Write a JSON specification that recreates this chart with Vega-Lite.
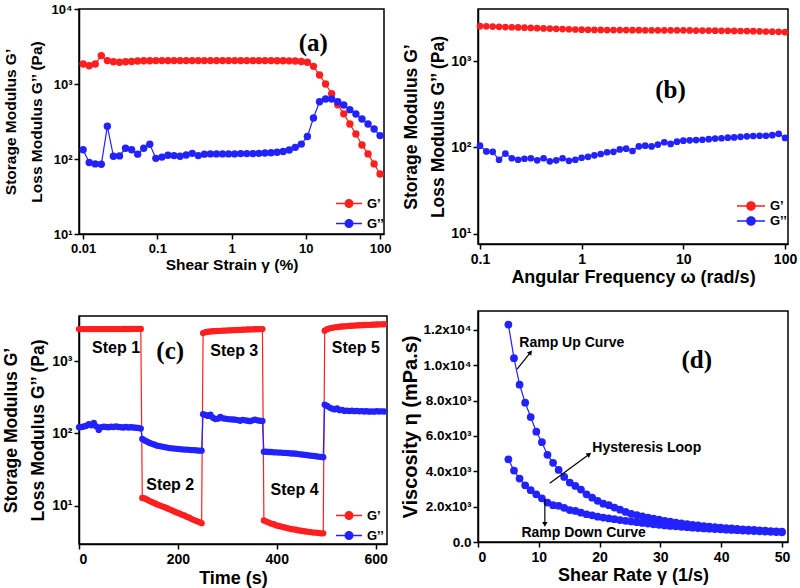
{
"$schema": "https://vega.github.io/schema/vega-lite/v6.json",
"background": "white",
"padding": {"left": 2, "top": 2, "right": 0, "bottom": 3},
"datasets": {
"a": [{"x":0.01,"gp":1850,"gpp":133},{"x":0.01207,"gp":1750,"gpp":90},{"x":0.01456,"gp":1850,"gpp":86},{"x":0.01758,"gp":2390,"gpp":85},{"x":0.02121,"gp":2050,"gpp":273},{"x":0.0256,"gp":1985,"gpp":109},{"x":0.0309,"gp":1950,"gpp":110},{"x":0.0373,"gp":1985,"gpp":139},{"x":0.045,"gp":2000,"gpp":133},{"x":0.0543,"gp":2030,"gpp":116},{"x":0.0655,"gp":2040,"gpp":139},{"x":0.0791,"gp":2040,"gpp":157},{"x":0.0954,"gp":2050,"gpp":102},{"x":0.1152,"gp":2050,"gpp":106},{"x":0.139,"gp":2050,"gpp":112},{"x":0.1677,"gp":2050,"gpp":111},{"x":0.2024,"gp":2050,"gpp":109},{"x":0.2443,"gp":2050,"gpp":113},{"x":0.2949,"gp":2050,"gpp":119},{"x":0.3559,"gp":2050,"gpp":111},{"x":0.4295,"gp":2050,"gpp":116},{"x":0.5184,"gp":2050,"gpp":117},{"x":0.6257,"gp":2050,"gpp":117},{"x":0.7551,"gp":2050,"gpp":117},{"x":0.9113,"gp":2050,"gpp":117},{"x":1.1,"gp":2050,"gpp":117},{"x":1.327,"gp":2050,"gpp":118},{"x":1.602,"gp":2050,"gpp":118},{"x":1.933,"gp":2050,"gpp":118},{"x":2.333,"gp":2050,"gpp":119},{"x":2.816,"gp":2050,"gpp":120},{"x":3.398,"gp":2050,"gpp":121},{"x":4.101,"gp":2045,"gpp":123},{"x":4.95,"gp":2040,"gpp":126},{"x":5.974,"gp":2035,"gpp":132},{"x":7.21,"gp":2025,"gpp":143},{"x":8.7,"gp":2000,"gpp":158},{"x":10.5,"gp":1950,"gpp":200},{"x":12.67,"gp":1720,"gpp":352},{"x":15.3,"gp":1320,"gpp":581},{"x":18.46,"gp":1000,"gpp":631},{"x":22.28,"gp":740,"gpp":631},{"x":26.9,"gp":530,"gpp":581},{"x":32.46,"gp":400,"gpp":525},{"x":39.17,"gp":293,"gpp":455},{"x":47.28,"gp":215,"gpp":398},{"x":57.06,"gp":154,"gpp":341},{"x":68.87,"gp":117,"gpp":293},{"x":83.12,"gp":86,"gpp":251},{"x":100,"gp":63,"gpp":205}],
"b": [{"x":0.1,"gp":2575,"gpp":105},{"x":0.1155,"gp":2560,"gpp":90},{"x":0.1334,"gp":2545,"gpp":89},{"x":0.154,"gp":2530,"gpp":72},{"x":0.1778,"gp":2515,"gpp":85},{"x":0.2054,"gp":2500,"gpp":75},{"x":0.2371,"gp":2485,"gpp":72},{"x":0.2738,"gp":2470,"gpp":74},{"x":0.3162,"gp":2455,"gpp":75},{"x":0.3652,"gp":2440,"gpp":71},{"x":0.4217,"gp":2425,"gpp":75},{"x":0.487,"gp":2410,"gpp":69},{"x":0.5623,"gp":2395,"gpp":71},{"x":0.6494,"gp":2380,"gpp":75},{"x":0.7499,"gp":2370,"gpp":70},{"x":0.866,"gp":2355,"gpp":72},{"x":1,"gp":2340,"gpp":76},{"x":1.155,"gp":2335,"gpp":78},{"x":1.334,"gp":2330,"gpp":81},{"x":1.54,"gp":2325,"gpp":84},{"x":1.778,"gp":2320,"gpp":88},{"x":2.054,"gp":2320,"gpp":89},{"x":2.371,"gp":2315,"gpp":95},{"x":2.738,"gp":2315,"gpp":97},{"x":3.162,"gp":2310,"gpp":91},{"x":3.652,"gp":2310,"gpp":103},{"x":4.217,"gp":2305,"gpp":105},{"x":4.87,"gp":2305,"gpp":103},{"x":5.623,"gp":2300,"gpp":108},{"x":6.494,"gp":2300,"gpp":115},{"x":7.499,"gp":2300,"gpp":110},{"x":8.66,"gp":2300,"gpp":117},{"x":10,"gp":2300,"gpp":120},{"x":11.55,"gp":2295,"gpp":121},{"x":13.34,"gp":2290,"gpp":122},{"x":15.4,"gp":2290,"gpp":123},{"x":17.78,"gp":2285,"gpp":125},{"x":20.54,"gp":2280,"gpp":127},{"x":23.71,"gp":2275,"gpp":128},{"x":27.38,"gp":2270,"gpp":130},{"x":31.62,"gp":2265,"gpp":131},{"x":36.52,"gp":2260,"gpp":133},{"x":42.17,"gp":2255,"gpp":135},{"x":48.7,"gp":2250,"gpp":136},{"x":56.23,"gp":2240,"gpp":137},{"x":64.94,"gp":2230,"gpp":137},{"x":74.99,"gp":2220,"gpp":139},{"x":86.6,"gp":2210,"gpp":144},{"x":100,"gp":2190,"gpp":129}],
"c": [{"t":0,"gp":2760,"gpp":122},{"t":5,"gp":2760,"gpp":123},{"t":10,"gp":2760,"gpp":125},{"t":15,"gp":2760,"gpp":128},{"t":20,"gp":2760,"gpp":135},{"t":25,"gp":2760,"gpp":130},{"t":30,"gp":2760,"gpp":140},{"t":35,"gp":2760,"gpp":125},{"t":40,"gp":2760,"gpp":112},{"t":45,"gp":2760,"gpp":122},{"t":50,"gp":2760,"gpp":124},{"t":55,"gp":2760,"gpp":123},{"t":60,"gp":2760,"gpp":122},{"t":65,"gp":2760,"gpp":124},{"t":70,"gp":2760,"gpp":123},{"t":75,"gp":2760,"gpp":125},{"t":80,"gp":2760,"gpp":123},{"t":85,"gp":2760,"gpp":122},{"t":90,"gp":2765,"gpp":121},{"t":95,"gp":2765,"gpp":123},{"t":100,"gp":2765,"gpp":121},{"t":105,"gp":2765,"gpp":122},{"t":110,"gp":2770,"gpp":121},{"t":115,"gp":2770,"gpp":120},{"t":120,"gp":2770,"gpp":119},{"t":125,"gp":2770,"gpp":117},
{"t":128,"gp":12.9,"gpp":84},{"t":133,"gp":12.7,"gpp":80},{"t":138,"gp":12.2,"gpp":77},{"t":143,"gp":11.7,"gpp":74},{"t":148,"gp":11.3,"gpp":72},{"t":153,"gp":10.9,"gpp":70},{"t":158,"gp":10.5,"gpp":68},{"t":163,"gp":10.2,"gpp":67},{"t":168,"gp":9.9,"gpp":66},{"t":173,"gp":9.6,"gpp":65},{"t":178,"gp":9.3,"gpp":64},{"t":183,"gp":9.0,"gpp":63},{"t":188,"gp":8.7,"gpp":62.5},{"t":193,"gp":8.4,"gpp":62},{"t":198,"gp":8.1,"gpp":61.5},{"t":203,"gp":7.9,"gpp":61},{"t":208,"gp":7.6,"gpp":60.5},{"t":213,"gp":7.4,"gpp":60},{"t":218,"gp":7.1,"gpp":60},{"t":223,"gp":6.9,"gpp":59.5},{"t":228,"gp":6.6,"gpp":59},{"t":233,"gp":6.4,"gpp":59},{"t":238,"gp":6.2,"gpp":58.5},{"t":243,"gp":6.0,"gpp":58},{"t":248,"gp":5.8,"gpp":58},
{"t":251,"gp":2430,"gpp":185},{"t":256,"gp":2500,"gpp":180},{"t":261,"gp":2530,"gpp":175},{"t":266,"gp":2550,"gpp":182},{"t":271,"gp":2570,"gpp":165},{"t":276,"gp":2585,"gpp":158},{"t":281,"gp":2600,"gpp":160},{"t":286,"gp":2610,"gpp":170},{"t":291,"gp":2620,"gpp":162},{"t":296,"gp":2630,"gpp":160},{"t":301,"gp":2640,"gpp":158},{"t":306,"gp":2650,"gpp":157},{"t":311,"gp":2660,"gpp":156},{"t":316,"gp":2670,"gpp":155},{"t":321,"gp":2680,"gpp":153},{"t":326,"gp":2690,"gpp":150},{"t":331,"gp":2700,"gpp":154},{"t":336,"gp":2710,"gpp":152},{"t":341,"gp":2720,"gpp":150},{"t":346,"gp":2725,"gpp":148},{"t":351,"gp":2735,"gpp":152},{"t":356,"gp":2740,"gpp":155},{"t":361,"gp":2750,"gpp":152},{"t":366,"gp":2755,"gpp":150},{"t":371,"gp":2760,"gpp":149},
{"t":374,"gp":6.3,"gpp":56},{"t":379,"gp":6.1,"gpp":56},{"t":384,"gp":5.9,"gpp":55.5},{"t":389,"gp":5.7,"gpp":55.5},{"t":394,"gp":5.6,"gpp":55},{"t":399,"gp":5.4,"gpp":55},{"t":404,"gp":5.3,"gpp":54.5},{"t":409,"gp":5.2,"gpp":54.5},{"t":414,"gp":5.1,"gpp":54},{"t":419,"gp":5.0,"gpp":54},{"t":424,"gp":4.9,"gpp":53.5},{"t":429,"gp":4.8,"gpp":53},{"t":434,"gp":4.75,"gpp":53},{"t":439,"gp":4.7,"gpp":52.5},{"t":444,"gp":4.6,"gpp":52},{"t":449,"gp":4.55,"gpp":51.5},{"t":454,"gp":4.5,"gpp":51},{"t":459,"gp":4.45,"gpp":50.5},{"t":464,"gp":4.4,"gpp":50},{"t":469,"gp":4.35,"gpp":49.5},{"t":474,"gp":4.3,"gpp":49},{"t":479,"gp":4.3,"gpp":48.5},{"t":484,"gp":4.25,"gpp":48},{"t":489,"gp":4.2,"gpp":47.5},{"t":494,"gp":4.2,"gpp":47},
{"t":497,"gp":2620,"gpp":250},{"t":502,"gp":2750,"gpp":240},{"t":507,"gp":2820,"gpp":228},{"t":512,"gp":2870,"gpp":220},{"t":517,"gp":2910,"gpp":215},{"t":522,"gp":2940,"gpp":222},{"t":527,"gp":2970,"gpp":210},{"t":532,"gp":2990,"gpp":212},{"t":537,"gp":3010,"gpp":205},{"t":542,"gp":3030,"gpp":207},{"t":547,"gp":3050,"gpp":204},{"t":552,"gp":3065,"gpp":206},{"t":557,"gp":3080,"gpp":203},{"t":562,"gp":3095,"gpp":205},{"t":567,"gp":3110,"gpp":202},{"t":572,"gp":3120,"gpp":204},{"t":577,"gp":3135,"gpp":201},{"t":582,"gp":3145,"gpp":203},{"t":587,"gp":3155,"gpp":200},{"t":592,"gp":3165,"gpp":202},{"t":597,"gp":3175,"gpp":200},{"t":602,"gp":3185,"gpp":203},{"t":607,"gp":3195,"gpp":201},{"t":612,"gp":3205,"gpp":202},{"t":617,"gp":3215,"gpp":201}],
"d": [{"x":5,"up":12300,"down":4680},{"x":5.92,"up":10400,"down":4040},{"x":6.84,"up":8900,"down":3590},{"x":7.76,"up":7880,"down":3210},{"x":8.67,"up":7070,"down":2930},{"x":9.59,"up":6240,"down":2700},{"x":10.51,"up":5650,"down":2470},{"x":11.43,"up":4930,"down":2230},{"x":12.35,"up":4480,"down":2080},{"x":13.27,"up":4080,"down":2040},{"x":14.18,"up":3680,"down":1930},{"x":15.1,"up":3360,"down":1810},{"x":16.02,"up":3170,"down":1760},{"x":16.94,"up":2970,"down":1660},{"x":17.86,"up":2700,"down":1570},{"x":18.78,"up":2510,"down":1510},{"x":19.69,"up":2330,"down":1430},{"x":20.61,"up":2170,"down":1380},{"x":21.53,"up":2080,"down":1330},{"x":22.45,"up":1950,"down":1290},{"x":23.37,"up":1830,"down":1240},{"x":24.29,"up":1700,"down":1200},{"x":25.2,"up":1590,"down":1160},{"x":26.12,"up":1520,"down":1120},{"x":27.04,"up":1450,"down":1080},{"x":27.96,"up":1380,"down":1040},{"x":28.88,"up":1320,"down":1000},{"x":29.8,"up":1260,"down":970},{"x":30.71,"up":1200,"down":940},{"x":31.63,"up":1150,"down":910},{"x":32.55,"up":1100,"down":885},{"x":33.47,"up":1050,"down":860},{"x":34.39,"up":1010,"down":835},{"x":35.31,"up":970,"down":810},{"x":36.22,"up":935,"down":790},{"x":37.14,"up":900,"down":770},{"x":38.06,"up":870,"down":750},{"x":38.98,"up":840,"down":730},{"x":39.9,"up":815,"down":715},{"x":40.82,"up":790,"down":700},{"x":41.73,"up":765,"down":680},{"x":42.65,"up":740,"down":665},{"x":43.57,"up":720,"down":650},{"x":44.49,"up":700,"down":635},{"x":45.41,"up":680,"down":620},{"x":46.33,"up":660,"down":605},{"x":47.24,"up":640,"down":590},{"x":48.16,"up":620,"down":575},{"x":49.08,"up":600,"down":560},{"x":50,"up":585,"down":545}]
},
"spacing": 7,
"bounds": "full",
"resolve": {"scale": {"color": "independent"}, "legend": {"color": "independent"}},
"hconcat": [
{"vconcat": [
{"width": 305, "height": 225,
 "layer": [
  {"data": {"name": "a"}, "transform": [{"fold": ["gp", "gpp"], "as": ["s", "v"]}],
   "mark": {"type": "line", "strokeWidth": 1.2},
   "encoding": {
    "x": {"field": "x", "type": "quantitative", "scale": {"type": "log", "domain": [0.0088, 113], "nice": false},
          "axis": {"values": [0.01, 0.1, 1, 10, 100], "format": "~g", "title": "Shear Strain γ (%)", "titleFontSize": 15.5, "labelFontSize": 13, "labelPadding": 3, "titlePadding": 2}},
    "y": {"field": "v", "type": "quantitative", "scale": {"type": "log", "domain": [10, 10000], "nice": false},
          "axis": {"values": [10, 100, 1000, 10000], "labelExpr": "datum.value == 10 ? '10¹' : datum.value == 100 ? '10²' : datum.value == 1000 ? '10³' : '10⁴'", "title": ["Storage Modulus G’", "Loss Modulus G’’ (Pa)"], "titleFontSize": 15.5, "titleLineHeight": 26, "labelFontSize": 13, "labelPadding": 2, "titlePadding": 7}},
    "color": {"field": "s", "type": "nominal", "scale": {"domain": ["gp", "gpp"], "range": ["#ff1f1f", "#2222ff"]},
      "legend": {"orient": "none", "legendX": 256, "legendY": 187, "title": null, "symbolType": "M-1,0L3,0M0.4,0A0.6,0.6 0 1 1 1.6,0A0.6,0.6 0 1 1 0.4,0Z", "symbolSize": 169, "labelOffset": 17, "labelExpr": "datum.label == 'gp' ? 'G’' : 'G’’'", "labelFontSize": 13, "rowPadding": 5,
        "encode": {"symbols": {"update": {"fill": [{"test": "datum.value == 'gp'", "value": "#ff1f1f"}, {"value": "#2222ff"}], "stroke": [{"test": "datum.value == 'gp'", "value": "#ff1f1f"}, {"value": "#2222ff"}], "strokeWidth": {"value": 1.3}}}}}}
   }},
  {"data": {"name": "a"}, "transform": [{"fold": ["gp", "gpp"], "as": ["s", "v"]}],
   "mark": {"type": "point", "filled": true, "size": 55, "opacity": 1},
   "encoding": {
    "x": {"field": "x", "type": "quantitative", "scale": {"type": "log", "domain": [0.0088, 113], "nice": false}},
    "y": {"field": "v", "type": "quantitative", "scale": {"type": "log", "domain": [10, 10000], "nice": false}},
    "color": {"field": "s", "type": "nominal", "scale": {"domain": ["gp", "gpp"], "range": ["#ff1f1f", "#2222ff"]}}
   }},
  {"data": {"values": [{"x": 12.6, "v": 3524, "t": "(a)"}]},
   "mark": {"type": "text", "font": "Liberation Serif", "fontWeight": "bold", "fontSize": 25, "color": "#000"},
   "encoding": {
    "x": {"field": "x", "type": "quantitative", "scale": {"type": "log", "domain": [0.0088, 113], "nice": false}},
    "y": {"field": "v", "type": "quantitative", "scale": {"type": "log", "domain": [10, 10000], "nice": false}},
    "text": {"field": "t"}
   }}
 ]},
{"width": 308, "height": 228,
 "layer": [
  {"data": {"name": "c"}, "transform": [{"fold": ["gp", "gpp"], "as": ["s", "v"]}],
   "mark": {"type": "line", "strokeWidth": 1.2},
   "encoding": {
    "x": {"field": "t", "type": "quantitative", "scale": {"domain": [0, 623], "nice": false, "zero": false},
          "axis": {"values": [0, 200, 400, 600], "title": "Time (s)", "titleFontSize": 18, "labelFontSize": 14, "labelPadding": 3, "titlePadding": 3}},
    "y": {"field": "v", "type": "quantitative", "scale": {"type": "log", "domain": [2.99, 4176], "nice": false},
          "axis": {"values": [10, 100, 1000], "labelExpr": "datum.value == 10 ? '10¹' : datum.value == 100 ? '10²' : '10³'", "title": ["Storage Modulus G’", "Loss Modulus G’’ (Pa)"], "titleFontSize": 17.5, "titleLineHeight": 27, "labelFontSize": 14, "labelPadding": 2, "titlePadding": 4}},
    "color": {"field": "s", "type": "nominal", "scale": {"domain": ["gp", "gpp"], "range": ["#ff1f1f", "#2222ff"]},
      "legend": {"orient": "none", "legendX": 256, "legendY": 192, "title": null, "symbolType": "M-1,0L3,0M0.4,0A0.6,0.6 0 1 1 1.6,0A0.6,0.6 0 1 1 0.4,0Z", "symbolSize": 169, "labelOffset": 17, "labelExpr": "datum.label == 'gp' ? 'G’' : 'G’’'", "labelFontSize": 13, "rowPadding": 5,
        "encode": {"symbols": {"update": {"fill": [{"test": "datum.value == 'gp'", "value": "#ff1f1f"}, {"value": "#2222ff"}], "stroke": [{"test": "datum.value == 'gp'", "value": "#ff1f1f"}, {"value": "#2222ff"}], "strokeWidth": {"value": 1.3}}}}}}
   }},
  {"data": {"name": "c"}, "transform": [{"fold": ["gp", "gpp"], "as": ["s", "v"]}],
   "mark": {"type": "point", "filled": true, "size": 40, "opacity": 1},
   "encoding": {
    "x": {"field": "t", "type": "quantitative", "scale": {"domain": [0, 623], "nice": false, "zero": false}},
    "y": {"field": "v", "type": "quantitative", "scale": {"type": "log", "domain": [2.99, 4176], "nice": false}},
    "color": {"field": "s", "type": "nominal", "scale": {"domain": ["gp", "gpp"], "range": ["#ff1f1f", "#2222ff"]}}
   }},
  {"data": {"values": [{"t": 75, "v": 1510, "l": "Step 1"}, {"t": 184.5, "v": 19.5, "l": "Step 2"}, {"t": 314, "v": 1373, "l": "Step 3"}, {"t": 436, "v": 16.6, "l": "Step 4"}, {"t": 560, "v": 1510, "l": "Step 5"}]},
   "mark": {"type": "text", "fontWeight": "bold", "fontSize": 16, "color": "#000"},
   "encoding": {
    "x": {"field": "t", "type": "quantitative", "scale": {"domain": [0, 623], "nice": false, "zero": false}},
    "y": {"field": "v", "type": "quantitative", "scale": {"type": "log", "domain": [2.99, 4176], "nice": false}},
    "text": {"field": "l"}
   }},
  {"data": {"values": [{"t": 184.5, "v": 1373, "l": "(c)"}]},
   "mark": {"type": "text", "font": "Liberation Serif", "fontWeight": "bold", "fontSize": 25, "color": "#000"},
   "encoding": {
    "x": {"field": "t", "type": "quantitative", "scale": {"domain": [0, 623], "nice": false, "zero": false}},
    "y": {"field": "v", "type": "quantitative", "scale": {"type": "log", "domain": [2.99, 4176], "nice": false}},
    "text": {"field": "l"}
   }}
 ]}
], "spacing": 82, "bounds": "flush", "resolve": {"scale": {"color": "independent"}, "legend": {"color": "independent"}}},
{"vconcat": [
{"width": 310, "height": 235,
 "layer": [
  {"data": {"name": "b"}, "transform": [{"fold": ["gp", "gpp"], "as": ["s", "v"]}],
   "mark": {"type": "line", "strokeWidth": 1.2},
   "encoding": {
    "x": {"field": "x", "type": "quantitative", "scale": {"type": "log", "domain": [0.0956, 107], "nice": false},
          "axis": {"values": [0.1, 1, 10, 100], "format": "~g", "title": "Angular Frequency ω (rad/s)", "titleFontSize": 18, "labelFontSize": 14, "labelPadding": 3, "titlePadding": 2}},
    "y": {"field": "v", "type": "quantitative", "scale": {"type": "log", "domain": [7.55, 4075], "nice": false},
          "axis": {"values": [10, 100, 1000], "labelExpr": "datum.value == 10 ? '10¹' : datum.value == 100 ? '10²' : '10³'", "title": ["Storage Modulus G’", "Loss Modulus G’’ (Pa)"], "titleFontSize": 17.5, "titleLineHeight": 27, "labelFontSize": 14, "labelPadding": 2, "titlePadding": 3}},
    "color": {"field": "s", "type": "nominal", "scale": {"domain": ["gp", "gpp"], "range": ["#ff1f1f", "#2222ff"]},
      "legend": {"orient": "none", "legendX": 258, "legendY": 189, "title": null, "symbolType": "M-1,0L3,0M0.4,0A0.6,0.6 0 1 1 1.6,0A0.6,0.6 0 1 1 0.4,0Z", "symbolSize": 196, "labelOffset": 18, "labelExpr": "datum.label == 'gp' ? 'G’' : 'G’’'", "labelFontSize": 13, "rowPadding": 0,
        "encode": {"symbols": {"update": {"fill": [{"test": "datum.value == 'gp'", "value": "#ff1f1f"}, {"value": "#2222ff"}], "stroke": [{"test": "datum.value == 'gp'", "value": "#ff1f1f"}, {"value": "#2222ff"}], "strokeWidth": {"value": 1.3}}}}}}
   }},
  {"data": {"name": "b"}, "transform": [{"fold": ["gp", "gpp"], "as": ["s", "v"]}],
   "mark": {"type": "point", "filled": true, "size": 45, "opacity": 1},
   "encoding": {
    "x": {"field": "x", "type": "quantitative", "scale": {"type": "log", "domain": [0.0956, 107], "nice": false}},
    "y": {"field": "v", "type": "quantitative", "scale": {"type": "log", "domain": [7.55, 4075], "nice": false}},
    "color": {"field": "s", "type": "nominal", "scale": {"domain": ["gp", "gpp"], "range": ["#ff1f1f", "#2222ff"]}}
   }},
  {"data": {"values": [{"x": 7.47, "v": 470, "t": "(b)"}]},
   "mark": {"type": "text", "font": "Liberation Serif", "fontWeight": "bold", "fontSize": 25, "color": "#000"},
   "encoding": {
    "x": {"field": "x", "type": "quantitative", "scale": {"type": "log", "domain": [0.0956, 107], "nice": false}},
    "y": {"field": "v", "type": "quantitative", "scale": {"type": "log", "domain": [7.55, 4075], "nice": false}},
    "text": {"field": "t"}
   }}
 ]},
{"width": 310, "height": 231,
 "layer": [
  {"data": {"name": "d"}, "transform": [{"fold": ["up", "down"], "as": ["c", "v"]}],
   "mark": {"type": "line", "strokeWidth": 1.2, "color": "#2222ff"},
   "encoding": {
    "x": {"field": "x", "type": "quantitative", "scale": {"domain": [0, 51], "nice": false},
          "axis": {"values": [0, 10, 20, 30, 40, 50], "title": "Shear Rate γ (1/s)", "titleFontSize": 18, "labelFontSize": 14, "labelPadding": 3, "titlePadding": 2}},
    "y": {"field": "v", "type": "quantitative", "scale": {"domain": [0, 13070], "nice": false},
          "axis": {"tickCount": 7, "labelOverlap": false, "labelExpr": "datum.value == 0 ? '0.0' : datum.value >= 10000 ? format(datum.value / 10000, '.1f') + 'x10⁴' : format(datum.value / 1000, '.1f') + 'x10³'", "title": "Viscosity η (mPa.s)", "titleFontSize": 20, "labelFontSize": 13.5, "labelPadding": 2, "titlePadding": 3}},
    "detail": {"field": "c"}
   }},
  {"data": {"name": "d"}, "transform": [{"fold": ["up", "down"], "as": ["c", "v"]}],
   "mark": {"type": "point", "filled": true, "size": 60, "opacity": 1, "color": "#2222ff"},
   "encoding": {
    "x": {"field": "x", "type": "quantitative", "scale": {"domain": [0, 51], "nice": false}},
    "y": {"field": "v", "type": "quantitative", "scale": {"domain": [0, 13070], "nice": false}}
   }},
  {"data": {"values": [{"x": 6.43, "v": 9775, "x2": 8.64, "v2": 10735, "id": "up"}, {"x": 11.8, "v": 3322, "x2": 18.3, "v2": 4964, "id": "hy"}, {"x": 11.0, "v": 2417, "x2": 11.0, "v2": 1002, "id": "dn"}]},
   "mark": {"type": "rule", "color": "#000", "strokeWidth": 1.2},
   "encoding": {
    "x": {"field": "x", "type": "quantitative", "scale": {"domain": [0, 51], "nice": false}},
    "y": {"field": "v", "type": "quantitative", "scale": {"domain": [0, 13070], "nice": false}},
    "x2": {"field": "x2"}, "y2": {"field": "v2"}
   }},
  {"data": {"values": [{"x": 8.64, "v": 10735, "id": "up"}]},
   "mark": {"type": "point", "shape": "triangle-up", "filled": true, "color": "#000", "size": 30, "angle": 38, "opacity": 1},
   "encoding": {
    "x": {"field": "x", "type": "quantitative", "scale": {"domain": [0, 51], "nice": false}},
    "y": {"field": "v", "type": "quantitative", "scale": {"domain": [0, 13070], "nice": false}}
   }},
  {"data": {"values": [{"x": 18.3, "v": 4964, "id": "hy"}]},
   "mark": {"type": "point", "shape": "triangle-up", "filled": true, "color": "#000", "size": 30, "angle": 54, "opacity": 1},
   "encoding": {
    "x": {"field": "x", "type": "quantitative", "scale": {"domain": [0, 51], "nice": false}},
    "y": {"field": "v", "type": "quantitative", "scale": {"domain": [0, 13070], "nice": false}}
   }},
  {"data": {"values": [{"x": 11.0, "v": 1002, "id": "dn"}]},
   "mark": {"type": "point", "shape": "triangle-up", "filled": true, "color": "#000", "size": 30, "angle": 180, "opacity": 1},
   "encoding": {
    "x": {"field": "x", "type": "quantitative", "scale": {"domain": [0, 51], "nice": false}},
    "y": {"field": "v", "type": "quantitative", "scale": {"domain": [0, 13070], "nice": false}}
   }},
  {"data": {"values": [{"x": 6.8, "v": 11263, "t": "Ramp Up Curve"}, {"x": 18.8, "v": 5320, "t": "Hysteresis Loop"}, {"x": 7.14, "v": 509, "t": "Ramp Down Curve"}]},
   "mark": {"type": "text", "fontWeight": "bold", "fontSize": 14, "align": "left", "baseline": "middle", "color": "#000"},
   "encoding": {
    "x": {"field": "x", "type": "quantitative", "scale": {"domain": [0, 51], "nice": false}},
    "y": {"field": "v", "type": "quantitative", "scale": {"domain": [0, 13070], "nice": false}},
    "text": {"field": "t"}
   }},
  {"data": {"values": [{"x": 36, "v": 10302, "t": "(d)"}]},
   "mark": {"type": "text", "font": "Liberation Serif", "fontWeight": "bold", "fontSize": 25, "color": "#000"},
   "encoding": {
    "x": {"field": "x", "type": "quantitative", "scale": {"domain": [0, 51], "nice": false}},
    "y": {"field": "v", "type": "quantitative", "scale": {"domain": [0, 13070], "nice": false}},
    "text": {"field": "t"}
   }}
 ]}
], "spacing": 67, "bounds": "flush", "resolve": {"scale": {"color": "independent"}, "legend": {"color": "independent"}}}
],
"config": {
 "font": "Liberation Sans",
 "view": {"stroke": "#000", "strokeWidth": 1.5},
 "axis": {"domainColor": "#000", "domainWidth": 1.5, "tickColor": "#000", "tickWidth": 1.5, "tickSize": 5, "grid": false, "labelOverlap": false,
   "labelFont": "Liberation Sans", "labelFontWeight": "bold", "labelColor": "#000",
   "titleFont": "Liberation Sans", "titleFontWeight": "bold", "titleColor": "#000"},
 "legend": {"padding": 0, "labelFont": "Liberation Sans", "labelFontWeight": "bold", "labelColor": "#000", "rowPadding": 0, "labelOffset": 4}
}
}
